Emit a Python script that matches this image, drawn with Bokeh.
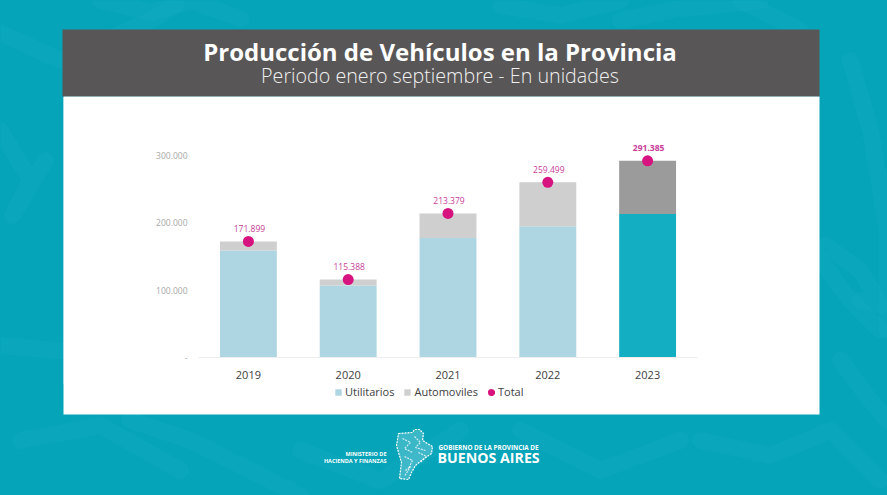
from bokeh.plotting import figure
from bokeh.embed import file_html
from bokeh.resources import INLINE
from bokeh.layouts import column
from bokeh.models import ColumnDataSource, Range1d, FixedTicker, Legend, LegendItem
from bokeh.core.properties import value

years = ["2019", "2020", "2021", "2022", "2023"]
utilitarios = [158500, 106700, 177000, 194500, 212700]
automoviles = [13399, 8688, 36379, 64999, 78685]
totals = [171899, 115388, 213379, 259499, 291385]
total_labels = ["171.899", "115.388", "213.379", "259.499", "291.385"]
util_colors = ["#add6e2", "#add6e2", "#add6e2", "#add6e2", "#14aec3"]
auto_colors = ["#cfcfcf", "#cfcfcf", "#cfcfcf", "#cfcfcf", "#9b9b9b"]
label_styles = ["normal", "normal", "normal", "normal", "bold"]
y_ticks = [0, 100000, 200000, 300000]
y_tick_labels = {0: "-", 100000: "100.000", 200000: "200.000", 300000: "300.000"}
series_names = ["Utilitarios", "Automoviles", "Total"]
DOT = "#d6137f"

W, H = 887, 495
TEAL = "#05a4b9"
PL, PR, PT, PB = 63, 819, 96, 414     # white panel
CB = 384                              # bottom of the chart figure
FL, FR, FT, FB = 198, 697, 130, 357   # plot frame

# ---- page backdrop: teal, soft motif, header band, white panel, legend, footer logo -----
bg = figure(width=W, height=H, x_range=Range1d(0, W), y_range=Range1d(H, 0),
            x_axis_location=None, y_axis_location=None, output_backend="svg",
            toolbar_location=None, min_border=0, outline_line_color=None,
            border_fill_color=TEAL, background_fill_color=TEAL, frame_align=False)
bg.grid.visible = False

motif_x = [[0, 30, 12, 45], [0, 60, 170], [-5, 60, 150, 175], [20, 100, 180], [130, 190, 300],
           [100, 150, 190, 240], [300, 380, 460], [520, 600, 680], [740, 780, 800],
           [850, 870, 887, 887], [820, 850, 880], [825, 860, 880, 860], [700, 770, 830, 880],
           [620, 680, 760], [500, 560, 620], [840, 870, 887]]
motif_y = [[130, 180, 215, 160], [345, 350, 340], [30, 60, 20, 5], [440, 425, 470], [420, 440, 495],
           [0, 12, 0, 18], [450, 480, 430], [430, 470, 440], [0, 20, 30], [60, 130, 230, 330],
           [260, 300, 330], [245, 270, 305, 300], [440, 455, 430, 480], [20, 8, 0], [5, 15, 0], [360, 400, 420]]
bg.multi_line(xs=motif_x, ys=motif_y, line_color="#2dbccd", line_alpha=0.13, line_width=17,
              line_join="round", line_cap="round")

bg.quad(left=[PL], right=[PR], top=[PT], bottom=[PB], fill_color="white", line_color=None)
bg.quad(left=[62], right=[819], top=[29], bottom=[96], fill_color="#585656", line_color=None)

bg.text(x=[439.5], y=[50.5], text=["Producción de Vehículos en la Provincia"],
        text_font=value("Open Sans"), text_font_size="24px", text_font_style="bold",
        text_color="white", text_align="center", text_baseline="middle")
bg.text(x=[439.5], y=[74.5], text=["Periodo enero septiembre - En unidades"],
        text_font=value("Open Sans Light"), text_font_size="19.7px", text_color="#f0f0f0",
        text_align="center", text_baseline="middle")
bg.text(x=[386, 386], y=[453, 460], text=["MINISTERIO DE", "HACIENDA Y FINANZAS"],
        text_font=value("Open Sans"), text_font_size="5.5px", text_font_style="bold",
        text_color="white", text_align="right", text_baseline="middle")
bg.text(x=[438], y=[447], text=["GOBIERNO DE LA PROVINCIA DE"],
        text_font=value("Open Sans"), text_font_size="6.35px", text_font_style="bold",
        text_color="white", text_align="left", text_baseline="middle")
bg.text(x=[437], y=[457], text=["BUENOS AIRES"],
        text_font=value("Open Sans"), text_font_size="14.2px", text_font_style="bold",
        text_color="white", text_align="left", text_baseline="middle")

logo_x = [398, 412, 414, 419, 423, 422, 432, 431, 421, 415, 411, 408, 399, 401, 396]
logo_y = [433, 432, 429, 429, 433, 440, 446, 453, 460, 465, 472, 479, 478, 462, 445]
bg.patch(logo_x, logo_y, fill_color="white", fill_alpha=0.22, line_color="white",
         line_width=1.2, line_dash="2 1")
logo_in_x = [[402, 410, 404, 412], [414, 420, 415, 425], [404, 412, 408], [418, 426, 420], [405, 410, 404]]
logo_in_y = [[438, 442, 448, 452], [436, 442, 447, 450], [456, 460, 468], [452, 456, 462], [470, 466, 476]]
bg.multi_line(xs=logo_in_x, ys=logo_in_y, line_color="white", line_width=1.1, line_alpha=0.8, line_dash="2 1")

k1 = bg.quad(left=[-30], right=[-20], top=[-30], bottom=[-20], fill_color=util_colors[0], line_color=None)
k2 = bg.quad(left=[-30], right=[-20], top=[-30], bottom=[-20], fill_color=auto_colors[0], line_color=None)
k3 = bg.scatter(x=[-30], y=[-30], size=7, fill_color=DOT, line_color=DOT, line_width=4)
legend = Legend(items=[LegendItem(label=series_names[0], renderers=[k1]),
                       LegendItem(label=series_names[1], renderers=[k2]),
                       LegendItem(label=series_names[2], renderers=[k3])],
                orientation="horizontal", location=(334, H - 399),
                background_fill_alpha=0, border_line_color=None,
                label_text_font="Open Sans", label_text_font_size="11px",
                label_text_color="#404040", glyph_width=8, glyph_height=8,
                label_standoff=3, spacing=9, padding=0, margin=0)
bg.add_layout(legend)

# ---- chart ------------------------------------------------------------------------------
p = figure(width=PR - PL, height=CB - PT, x_range=years,
           y_range=Range1d(0, (FB - FT) / 67.5 * 100000),
           output_backend="svg", toolbar_location=None,
           min_border_left=FL - PL, min_border_right=PR - FR,
           min_border_top=FT - PT, min_border_bottom=CB - FB,
           border_fill_color="white", background_fill_color="white",
           outline_line_color=None, frame_align=False)
p.grid.visible = False
p.margin = (-(H - PT), 0, 0, PL)

src = ColumnDataSource(dict(x=years, util=utilitarios, auto=automoviles, total=totals,
                            lab=total_labels, uc=util_colors, ac=auto_colors, st=label_styles,
                            base=[0] * 5, top2=[u + a for u, a in zip(utilitarios, automoviles)]))
p.vbar(x="x", bottom="base", top="util", width=0.57, fill_color="uc", line_color=None, source=src)
p.vbar(x="x", bottom="util", top="top2", width=0.57, fill_color="ac", line_color=None, source=src)
p.scatter(x="x", y="total", size=11, fill_color=DOT, line_color=None, source=src)
p.text(x="x", y="total", text="lab", source=src, text_font=value("Open Sans"),
       text_font_size="8.5px", text_color="#c83d98", text_align="center",
       text_baseline="middle", x_offset=1, y_offset=-13, text_font_style="st")

ya = p.yaxis[0]
ya.ticker = FixedTicker(ticks=y_ticks)
ya.major_label_overrides = y_tick_labels
ya.axis_line_color = None
ya.major_tick_line_color = None
ya.minor_tick_line_color = None
ya.major_label_text_font = "Open Sans"
ya.major_label_text_font_size = "8.5px"
ya.major_label_text_color = "#a8a8a8"
ya.major_label_standoff = 5

xa = p.xaxis[0]
xa.axis_line_color = "#eeeeee"
xa.major_tick_line_color = None
xa.minor_tick_line_color = None
xa.major_label_text_font = "Open Sans"
xa.major_label_text_font_size = "11px"
xa.major_label_text_color = "#404040"
xa.major_label_standoff = 7

page = column(bg, p, spacing=0)
html = file_html(page, INLINE)
html = html.replace("<head>", f"<head><style>html,body{{background:{TEAL};margin:0;overflow:hidden}}</style>", 1)
open("out.html", "w").write(html)
